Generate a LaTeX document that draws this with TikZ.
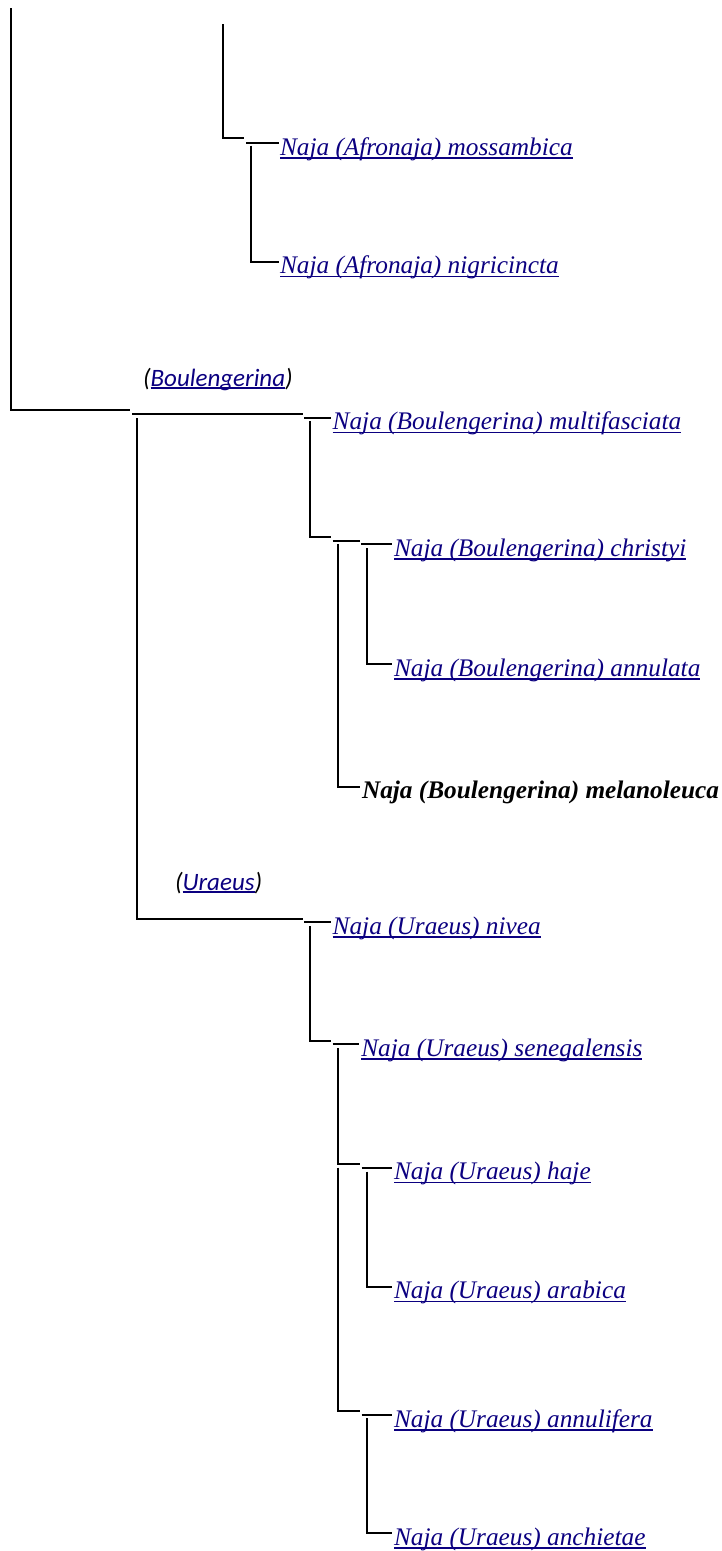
\documentclass[tikz,border=0pt]{standalone}
\usepackage{fontspec}
\setmainfont{Liberation Serif}
\newfontfamily\lblfont{Carlito}
\definecolor{linkblue}{RGB}{11,0,128}
\newcommand\lnk[1]{{\color{linkblue}\setbox0\hbox{#1}\rlap{\rule[-3.6pt]{\wd0}{1.6pt}}\box0}}
\newcommand\lnkS[1]{{\color{linkblue}\setbox0\hbox{#1}\rlap{\rule[-2.6pt]{\wd0}{1.5pt}}\box0}}
\tikzset{
  br/.style={line width=2pt, draw=black},
  taxon/.style={anchor=base west, inner sep=0pt, outer sep=0pt, font=\fontsize{25.3}{30}\selectfont\itshape},
  boldtaxon/.style={taxon, font=\fontsize{25.3}{30}\selectfont\bfseries\itshape},
  grp/.style={anchor=base west, inner sep=0pt, outer sep=0pt, font=\lblfont\fontsize{25}{30}\selectfont\itshape},
}
\begin{document}
\begin{tikzpicture}[x=1pt,y=-1pt]
\useasboundingbox (0,0) rectangle (721,1551);
% taxa
\node[taxon] (mos) at (280,155) {\lnk{Naja (Afronaja) mossambica}};
\node[taxon] (nig) at (280,273.7) {\lnk{Naja (Afronaja) nigricincta}};
\node[taxon] (mul) at (332.7,429.7) {\lnk{Naja (Boulengerina) multifasciata}};
\node[taxon] (chr) at (394,556.3) {\lnk{Naja (Boulengerina) christyi}};
\node[taxon] (ann) at (394,676) {\lnk{Naja (Boulengerina) annulata}};
\node[boldtaxon] (mel) at (362,798.7) {Naja (Boulengerina) melanoleuca};
\node[taxon] (niv) at (332.7,934.3) {\lnk{Naja (Uraeus) nivea}};
\node[taxon] (sen) at (361.3,1056.3) {\lnk{Naja (Uraeus) senegalensis}};
\node[taxon] (haj) at (394,1179.7) {\lnk{Naja (Uraeus) haje}};
\node[taxon] (ara) at (394,1298.7) {\lnk{Naja (Uraeus) arabica}};
\node[taxon] (anf) at (394,1427) {\lnk{Naja (Uraeus) annulifera}};
\node[taxon] (anc) at (394,1545) {\lnk{Naja (Uraeus) anchietae}};
% group labels
\node[grp] (gBou) at (143,386) {(\lnkS{Boulengerina})};
\node[grp] (gUra) at (175,890) {(\lnkS{Uraeus})};
% junction coordinates
\coordinate (rootTop) at (11,8);
\coordinate (rootEnd) at (130,410);
\coordinate (afrTop) at (222.7,24);
\coordinate (afrEnd) at (244,138);
\coordinate (afrA) at (246,142.7);
\coordinate (afrV) at (250.7,145.7);
\coordinate (bouA) at (132,414.3);
\coordinate (bouEnd) at (302.7,414.3);
\coordinate (bouV) at (136.7,418);
\coordinate (uraEnd) at (302.7,919);
\coordinate (mulA) at (304,417.7);
\coordinate (mulV) at (310,421);
\coordinate (mulEnd) at (330.7,536.7);
\coordinate (mcA) at (332.7,540.7);
\coordinate (mcEnd) at (360,540.7);
\coordinate (mcV) at (337.7,544);
\coordinate (chrA) at (361,544.3);
\coordinate (chrV) at (366.7,548);
\coordinate (nivA) at (304,922.3);
\coordinate (nivV) at (310,926);
\coordinate (nivEnd) at (330.7,1041);
\coordinate (senA) at (332.7,1044.3);
\coordinate (senV) at (337.7,1048);
\coordinate (senEnd) at (360,1164);
\coordinate (hajA) at (361.7,1167.7);
\coordinate (hajV) at (366.7,1171.7);
\coordinate (lowV) at (337.7,1167.7);
\coordinate (lowEnd) at (360,1410.7);
\coordinate (anfA) at (361.7,1415);
\coordinate (anfV) at (366.7,1418);
% branches
\draw[br] (rootTop) |- (rootEnd);
\draw[br] (afrTop) |- (afrEnd);
\draw[br] (afrA) -- ([xshift=-1.5pt,yshift=12.3pt]mos.base west);
\draw[br] (afrV) |- ([xshift=-1.5pt,yshift=12pt]nig.base west);
\draw[br] (bouA) -- (bouEnd);
\draw[br] (bouV) |- (uraEnd);
\draw[br] (mulA) -- ([xshift=-2pt,yshift=12pt]mul.base west);
\draw[br] (mulV) |- (mulEnd);
\draw[br] (mcA) -- (mcEnd);
\draw[br] (mcV) |- ([xshift=-2pt,yshift=12pt]mel.base west);
\draw[br] (chrA) -- ([xshift=-2.3pt,yshift=12pt]chr.base west);
\draw[br] (chrV) |- ([xshift=-2.3pt,yshift=12pt]ann.base west);
\draw[br] (nivA) -- ([xshift=-2pt,yshift=12pt]niv.base west);
\draw[br] (nivV) |- (nivEnd);
\draw[br] (senA) -- ([xshift=-2pt,yshift=12pt]sen.base west);
\draw[br] (senV) |- (senEnd);
\draw[br] (hajA) -- ([xshift=-2.3pt,yshift=12pt]haj.base west);
\draw[br] (hajV) |- ([xshift=-2.3pt,yshift=12pt]ara.base west);
\draw[br] (lowV) |- (lowEnd);
\draw[br] (anfA) -- ([xshift=-2.3pt,yshift=12pt]anf.base west);
\draw[br] (anfV) |- ([xshift=-2.3pt,yshift=12pt]anc.base west);
\end{tikzpicture}
\end{document}
